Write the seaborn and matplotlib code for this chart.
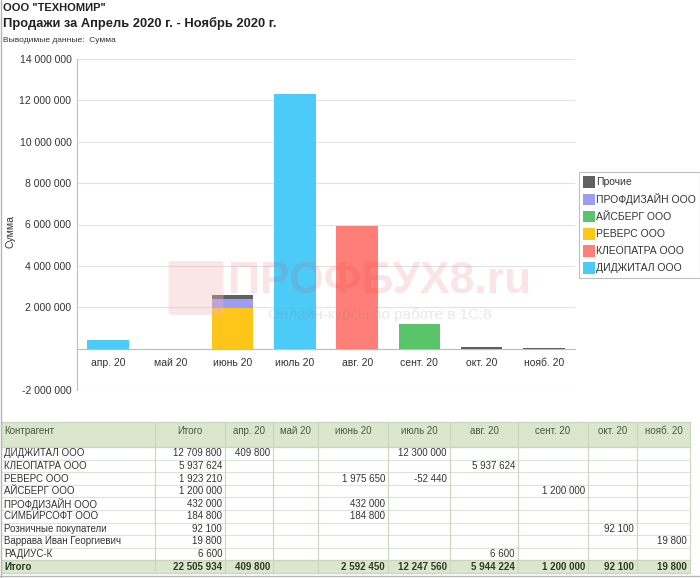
import matplotlib
matplotlib.use('Agg')
import matplotlib.pyplot as plt
from matplotlib.patches import Patch, Rectangle, FancyBboxPatch
import seaborn as sns
import numpy as np

# ---------------------------------------------------------------------------
# data
# ---------------------------------------------------------------------------
months = ['апр. 20', 'май 20', 'июнь 20', 'июль 20', 'авг. 20', 'сент. 20',
          'окт. 20', 'нояб. 20']

# chart series, stacked bottom -> top
digital = [409800, 0, 0, 12300000, 0, 0, 0, 0]
kleopatra = [0, 0, 0, 0, 5937624, 0, 0, 0]
revers = [0, 0, 1975650, -52440, 0, 0, 0, 0]
aisberg = [0, 0, 0, 0, 0, 1200000, 0, 0]
profdesign = [0, 0, 432000, 0, 0, 0, 0, 0]
other = [0, 0, 184800, 0, 6600, 0, 92100, 19800]

series_names = ['ДИДЖИТАЛ ООО', 'КЛЕОПАТРА ООО', 'РЕВЕРС ООО', 'АЙСБЕРГ ООО',
                'ПРОФДИЗАЙН ООО', 'Прочие']
series_vals = [digital, kleopatra, revers, aisberg, profdesign, other]
series_colors = ['#4DCBF8', '#FF7F78', '#FFC61A', '#5AC46A', '#9C9CF0',
                 '#606060']

# table rows (None = empty cell)
clients = ['ДИДЖИТАЛ ООО', 'КЛЕОПАТРА ООО', 'РЕВЕРС ООО', 'АЙСБЕРГ ООО',
           'ПРОФДИЗАЙН ООО', 'СИМБИРСОФТ ООО', 'Розничные покупатели',
           'Варрава Иван Георгиевич', 'РАДИУС-К']
client_months = [
    [409800, None, None, 12300000, None, None, None, None],
    [None, None, None, None, 5937624, None, None, None],
    [None, None, 1975650, -52440, None, None, None, None],
    [None, None, None, None, None, 1200000, None, None],
    [None, None, 432000, None, None, None, None, None],
    [None, None, 184800, None, None, None, None, None],
    [None, None, None, None, None, None, 92100, None],
    [None, None, None, None, None, None, None, 19800],
    [None, None, None, None, 6600, None, None, None],
]

yticks = [-2000000, 0, 2000000, 4000000, 6000000, 8000000, 10000000,
          12000000, 14000000]


def fmt(v):
    return f'{v:,}'.replace(',', ' ')


W, H = 700, 578
px = lambda x: x / W
py = lambda y: 1 - y / H

sns.set_style('white')
plt.rcParams['font.family'] = ['Liberation Sans', 'DejaVu Sans']

fig = plt.figure(figsize=(7, 5.78), dpi=100)
ax = fig.add_axes([px(77), py(390), px(575) - px(77), py(59) - py(390)])

# ---------------------------------------------------------------------------
# stacked bars
# ---------------------------------------------------------------------------
pos_base = np.zeros(len(months))
neg_base = np.zeros(len(months))
for vals, col in zip(series_vals, series_colors):
    vals = np.array(vals, dtype=float)
    bottom = np.where(vals >= 0, pos_base, neg_base)
    sns.barplot(x=months, y=vals, order=months, bottom=bottom, color=col,
                saturation=1, width=0.67, errorbar=None, linewidth=0,
                ax=ax, zorder=3)
    pos_base += np.clip(vals, 0, None)
    neg_base += np.clip(vals, None, 0)

ax.set_ylim(-2000000, 14000000)
ax.set_xlim(-0.5, len(months) - 0.5)
ax.set_yticks(yticks)
ax.set_yticklabels(['' if t == 0 else fmt(t) for t in yticks])
ax.set_xticks(range(len(months)))
ax.set_xticklabels(months)
ax.set_xticks(np.arange(-0.5, len(months), 1), minor=True)
ax.set_xlabel('')
ax.set_ylabel('')

ax.grid(axis='y', color='#E2E2E2', linewidth=0.8, zorder=0)
ax.set_axisbelow(True)
for s in ['top', 'right']:
    ax.spines[s].set_visible(False)
ax.spines['left'].set_color('#BDBDBD')
ax.spines['bottom'].set_color('#BDBDBD')
ax.spines['bottom'].set_position(('data', 0))
ax.spines['bottom'].set_zorder(2)

ax.tick_params(axis='y', length=3, color='#BDBDBD', labelsize=7.5,
               labelcolor='#333333', pad=1)
ax.tick_params(axis='x', which='major', length=0, labelsize=7.5,
               labelcolor='#333333', pad=7)
ax.tick_params(axis='x', which='minor', length=3, color='#BDBDBD')

# legend (reversed)
handles = [Patch(facecolor=c, edgecolor='none') for c in series_colors[::-1]]
leg = fig.legend(handles, series_names[::-1], loc='upper left',
                 bbox_to_anchor=(px(579), py(172)), fontsize=7.5,
                 frameon=True, fancybox=False, handlelength=1.15,
                 handleheight=1.3, handletextpad=0.1, labelspacing=0.55,
                 borderpad=0.4, borderaxespad=0, labelcolor='#333333')
leg.get_frame().set_edgecolor('#AFAFAF')
leg.get_frame().set_linewidth(0.8)

# ---------------------------------------------------------------------------
# titles
# ---------------------------------------------------------------------------
fig.text(px(3), py(8), 'ООО "ТЕХНОМИР"', fontsize=8, fontweight='bold',
         va='center', ha='left', color='#222222')
fig.text(px(3), py(23), 'Продажи за Апрель 2020 г. - Ноябрь 2020 г.',
         fontsize=9.3, fontweight='bold', va='center', ha='left',
         color='#222222')
fig.text(px(3), py(40), 'Выводимые данные:  Сумма', fontsize=6,
         va='center', ha='left', color='#333333')
fig.text(px(10), py(232), 'Сумма', fontsize=7.5, rotation=90, va='center',
         ha='center', color='#333333')

# watermark
fig.patches.append(FancyBboxPatch((px(172), py(312)), px(48), py(264) - py(312),
                                  boxstyle='round,pad=0.005',
                                  transform=fig.transFigure,
                                  facecolor='#F2B8BB', edgecolor='none',
                                  alpha=0.35, zorder=5))
fig.text(px(380), py(282), 'ПРОФБУХ8.ru', fontsize=32, fontweight='bold',
         color='#E0353F', alpha=0.13, ha='center', va='center', zorder=6)
fig.text(px(380), py(315), 'Онлайн-курсы по работе в 1С:8', fontsize=11,
         color='#808080', alpha=0.18, ha='center', va='center', zorder=6)

# ---------------------------------------------------------------------------
# table
# ---------------------------------------------------------------------------
tab = fig.add_axes([0, 0, 1, 1], zorder=-1)
tab.set_xlim(0, W)
tab.set_ylim(H, 0)
tab.axis('off')

col_edges = [2, 155, 225, 273, 318, 388, 450, 518, 588, 637, 690]
head_top, head_bot = 422, 447
row_h = 12.6
n_rows = len(clients)
tot_top = head_bot + n_rows * row_h
tot_bot = tot_top + row_h
green = '#DAE7CE'
line_c = '#C9D6BF'
grid_c = '#DDE3D8'
fs = 7.0

tab.add_patch(Rectangle((col_edges[0], head_top), col_edges[-1] - col_edges[0],
                        head_bot - head_top, facecolor=green, edgecolor='none'))
tab.add_patch(Rectangle((col_edges[0], tot_top), col_edges[-1] - col_edges[0],
                        tot_bot - tot_top, facecolor=green, edgecolor='none'))
for i in range(n_rows + 1):
    y = head_bot + i * row_h
    tab.plot([col_edges[0], col_edges[-1]], [y, y], color=grid_c, lw=0.8)
for y in [head_top, head_bot, tot_top, tot_bot]:
    tab.plot([col_edges[0], col_edges[-1]], [y, y], color=line_c, lw=0.9)
for x in col_edges[1:]:
    tab.plot([x, x], [head_top, tot_bot], color=line_c, lw=0.8)
tab.plot([0, W], [H - 2, H - 2], color='#B5B5B5', lw=1)
tab.plot([0.5, 0.5], [0, H], color='#B5B5B5', lw=1)

headers = ['Контрагент', 'Итого'] + months
hy = (head_top + head_bot) / 2 - 3
for j, h in enumerate(headers):
    if j == 0:
        tab.text(col_edges[0] + 2, hy, h, fontsize=fs, color='#4A5A3C',
                 ha='left', va='center')
    else:
        tab.text((col_edges[j] + col_edges[j + 1]) / 2, hy, h, fontsize=fs,
                 color='#4A5A3C', ha='center', va='center')

for i, (name, vals) in enumerate(zip(clients, client_months)):
    y = head_bot + (i + 0.5) * row_h
    tab.text(col_edges[0] + 2, y, name, fontsize=fs, color='#333333',
             ha='left', va='center')
    total = sum(v for v in vals if v is not None)
    tab.text(col_edges[2] - 3, y, fmt(total), fontsize=fs, color='#333333',
             ha='right', va='center')
    for j, v in enumerate(vals):
        if v is not None:
            tab.text(col_edges[j + 3] - 3, y, fmt(v), fontsize=fs,
                     color='#333333', ha='right', va='center')

ty = (tot_top + tot_bot) / 2
tab.text(col_edges[0] + 2, ty, 'Итого', fontsize=fs, fontweight='bold',
         color='#2F3A26', ha='left', va='center')
col_tot = [sum(r[j] for r in client_months if r[j] is not None)
           if any(r[j] is not None for r in client_months) else None
           for j in range(len(months))]
grand = sum(v for v in col_tot if v is not None)
tab.text(col_edges[2] - 3, ty, fmt(grand), fontsize=fs, fontweight='bold',
         color='#2F3A26', ha='right', va='center')
for j, v in enumerate(col_tot):
    if v is not None:
        tab.text(col_edges[j + 3] - 3, ty, fmt(v), fontsize=fs,
                 fontweight='bold', color='#2F3A26', ha='right', va='center')

plt.savefig('out.png', dpi=100)
